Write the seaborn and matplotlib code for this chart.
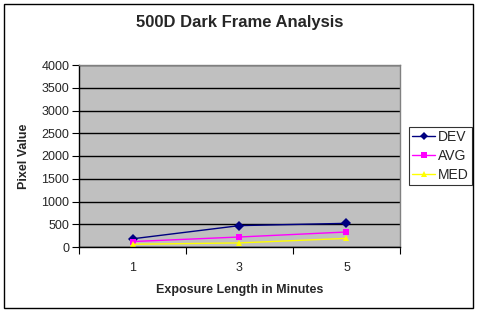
import matplotlib
matplotlib.use("Agg")
import matplotlib.pyplot as plt
import seaborn as sns
import pandas as pd
from matplotlib.patches import Rectangle
from matplotlib.lines import Line2D

categories = ["1", "3", "5"]
dev = [180, 470, 520]
avg = [120, 220, 330]
med = [60, 90, 190]
series_names = ["DEV", "AVG", "MED"]
yticks = [0, 500, 1000, 1500, 2000, 2500, 3000, 3500, 4000]

df = pd.DataFrame({
    "Exposure": categories * 3,
    "Value": dev + avg + med,
    "Series": [s for s in series_names for _ in categories],
})

sns.set_theme(style="white")
plt.rcParams["font.family"] = ["Liberation Sans", "DejaVu Sans"]

fig = plt.figure(figsize=(4.8, 3.13), dpi=100)
ax = fig.add_axes([79/480, 1-247/313, 321/480, 182/313])
ax.set_facecolor("#C0C0C0")

palette = {"DEV": "#000080", "AVG": "#FF00FF", "MED": "#FFFF00"}
markers = {"DEV": "D", "AVG": "s", "MED": "^"}
sns.lineplot(data=df, x="Exposure", y="Value", hue="Series", style="Series",
             palette=palette, markers=markers, dashes=False, markersize=5,
             linewidth=1, markeredgewidth=0, ax=ax, legend=False, sort=False)

ax.set_xlim(-0.5, 2.5)
ax.set_ylim(0, 4000)
ax.set_yticks(yticks)
ax.yaxis.grid(True, color="black", linewidth=1)
ax.set_axisbelow(True)
ax.tick_params(axis="y", which="major", length=5, width=0.8, color="black",
               labelsize=9, pad=2, left=True)
ax.set_xticks(range(len(categories)))
ax.set_xticklabels(categories)
ax.tick_params(axis="x", which="major", length=0, labelsize=9, pad=11)
ax.set_xticks([-0.5, 0.5, 1.5, 2.5], minor=True)
ax.tick_params(axis="x", which="minor", length=5, width=0.8, color="black", bottom=True)
for s in ["top", "right"]:
    ax.spines[s].set_color("#808080")
    ax.spines[s].set_linewidth(1)
for s in ["left", "bottom"]:
    ax.spines[s].set_color("black")
    ax.spines[s].set_linewidth(1)

ax.set_xlabel("Exposure Length in Minutes", fontsize=9, fontweight="bold", labelpad=7)
ax.set_ylabel("Pixel Value", fontsize=9, fontweight="bold", labelpad=8)
fig.suptitle("500D Dark Frame Analysis", fontsize=12, fontweight="bold", y=1-23/313, va="center")

handles = [Line2D([], [], color=palette[s], marker=markers[s], markersize=4.5,
                  markeredgewidth=0, linewidth=1) for s in series_names]
leg = fig.legend(handles, series_names, loc="upper left",
                 bbox_to_anchor=(409/480, 1-127/313), fontsize=10,
                 frameon=True, fancybox=False, edgecolor="black",
                 handlelength=1.7, handletextpad=0.2, borderpad=0.2,
                 labelspacing=0.37, borderaxespad=0)
leg.get_frame().set_linewidth(0.8)

fig.patches.append(Rectangle((4/480, 1-308/313), 469/480, 304/313,
                             transform=fig.transFigure, fill=False,
                             edgecolor="black", linewidth=1))

fig.savefig("out.png", dpi=100)
